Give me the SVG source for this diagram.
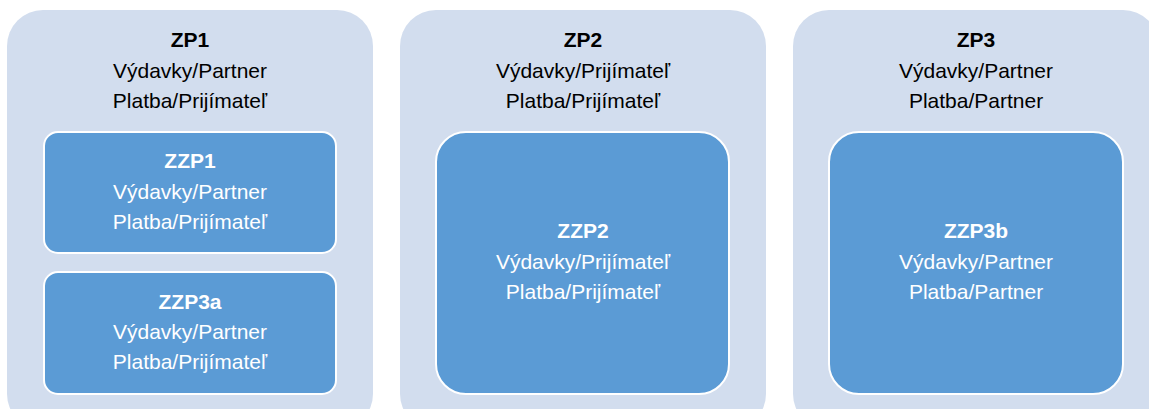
<svg xmlns="http://www.w3.org/2000/svg" width="1149" height="409" viewBox="0 0 1149 409">
<style>
.outer{fill:#D2DDEE;stroke:none}
.inner{fill:#5B9BD5;stroke:#FFFFFF;stroke-width:2}
text{font-family:"Liberation Sans",Arial,sans-serif;font-size:21px;text-anchor:middle}
.b{font-weight:bold}
.dk{fill:#000000}
.wt{fill:#FFFFFF}
</style>
<rect width="1149" height="409" fill="#FFFFFF"/>
<g id="ZP1">
<rect class="outer" x="7" y="10" width="366" height="420" rx="36" ry="36"/>
<text class="dk b" x="190" y="47">ZP1</text>
<text class="dk" x="190" y="78">Výdavky/Partner</text>
<text class="dk" x="190" y="108">Platba/Prijímateľ</text>
</g>
<g id="ZP2">
<rect class="outer" x="400" y="10" width="366" height="420" rx="36" ry="36"/>
<text class="dk b" x="583" y="47">ZP2</text>
<text class="dk" x="583" y="78">Výdavky/Prijímateľ</text>
<text class="dk" x="583" y="108">Platba/Prijímateľ</text>
</g>
<g id="ZP3">
<rect class="outer" x="793" y="10" width="366" height="420" rx="36" ry="36"/>
<text class="dk b" x="976" y="47">ZP3</text>
<text class="dk" x="976" y="78">Výdavky/Partner</text>
<text class="dk" x="976" y="108">Platba/Partner</text>
</g>
<g id="ZZP1">
<rect class="inner" x="44" y="132" width="292" height="121" rx="14" ry="14"/>
<text class="wt b" x="190" y="168">ZZP1</text>
<text class="wt" x="190" y="199">Výdavky/Partner</text>
<text class="wt" x="190" y="229">Platba/Prijímateľ</text>
</g>
<g id="ZZP3a">
<rect class="inner" x="44" y="272" width="292" height="122" rx="14" ry="14"/>
<text class="wt b" x="190" y="309">ZZP3a</text>
<text class="wt" x="190" y="339">Výdavky/Partner</text>
<text class="wt" x="190" y="369">Platba/Prijímateľ</text>
</g>
<g id="ZZP2">
<rect class="inner" x="436" y="132" width="293" height="262" rx="30" ry="30"/>
<text class="wt b" x="583" y="238">ZZP2</text>
<text class="wt" x="583" y="269">Výdavky/Prijímateľ</text>
<text class="wt" x="583" y="299">Platba/Prijímateľ</text>
</g>
<g id="ZZP3b">
<rect class="inner" x="829" y="132" width="294" height="262" rx="30" ry="30"/>
<text class="wt b" x="976" y="238">ZZP3b</text>
<text class="wt" x="976" y="269">Výdavky/Partner</text>
<text class="wt" x="976" y="299">Platba/Partner</text>
</g>
<g id="connectors"></g>
</svg>
